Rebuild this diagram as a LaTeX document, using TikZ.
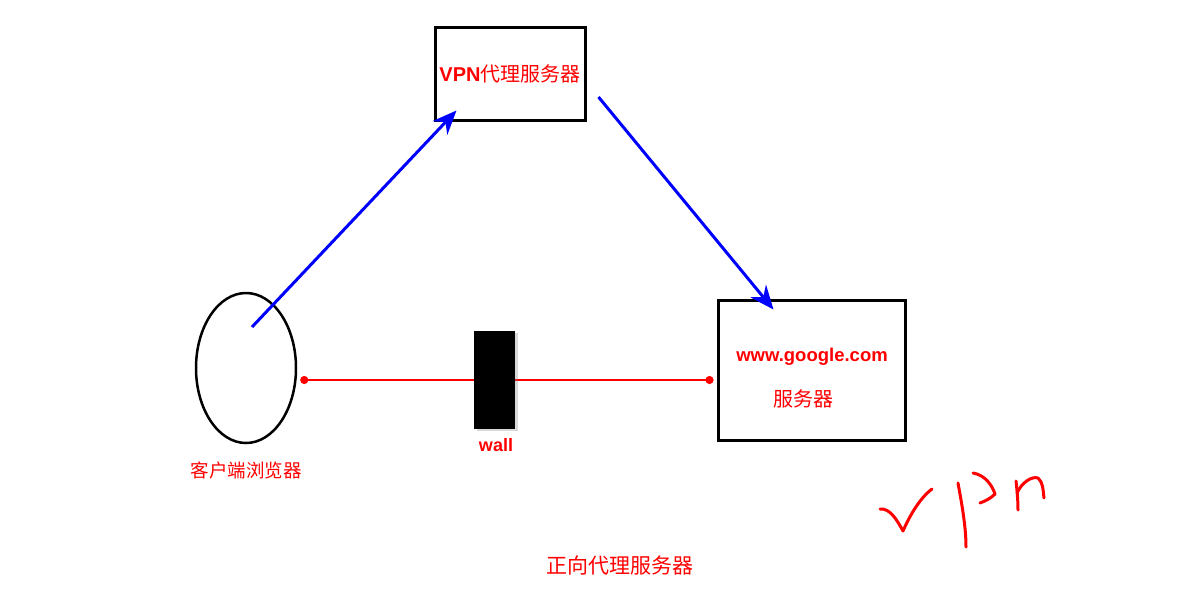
\documentclass[tikz,border=0pt]{standalone}
\usepackage{fontspec}
\setmainfont{Liberation Sans}
\newfontfamily\cjk{Noto Sans CJK SC}
\usepackage{xcolor}
\usepackage{tikz}
\usetikzlibrary{arrows.meta,shapes.geometric,shadows}
\tikzset{
  box/.style = {draw=black, line width=3pt, rectangle, inner sep=0pt,
    fill=white, drop shadow={opacity=0.15, shadow xshift=2pt, shadow yshift=-2pt}},
  browser/.style = {draw=black, line width=2.5pt, ellipse, inner sep=0pt,
    minimum width=100pt, minimum height=150pt},% navigateur
  wallbox/.style = {fill=black, rectangle, inner sep=0pt, minimum width=41pt,
    minimum height=98pt,
    drop shadow={opacity=0.3, shadow xshift=3pt, shadow yshift=-2pt}},
  lbl/.style = {red, inner sep=0pt},% texte rouge
  blue_arr/.style = {blue, line width=3pt,
    -{Stealth[length=24pt, width=20pt, inset=8pt]}},
  red_ln/.style = {red, line width=2.5pt,
    {Circle[length=8pt]}-{Circle[length=8pt]}},
  hand/.style = {red, line width=3pt, line cap=round, line join=round}
}
\begin{document}
\begin{tikzpicture}[x=1pt, y=-1pt]
\useasboundingbox (0,0) rectangle (1200,600);
% les noeuds
\node [box, minimum width=150pt, minimum height=93pt] (vpn) at (510,73.5)
  {\textcolor{red}{\fontsize{20pt}{22pt}\selectfont\bfseries VPN\cjk\mdseries 代理服务器}};
\node [box, minimum width=187pt, minimum height=140pt] (server) at (811.5,370) {};
\node [lbl, font=\fontsize{18.5pt}{20pt}\selectfont\bfseries] (google) at (812,357)
  {www.google.com};
\node [lbl, font=\fontsize{20pt}{22pt}\selectfont\cjk] (serverlbl) at (803,399) {服务器};
\node [browser] (client) at (246,368) {};
\node [lbl, font=\fontsize{18.5pt}{20pt}\selectfont\cjk] (clientlbl) at (246,470)
  {客户端浏览器};
% ligne directe, coupee par le mur
\draw [red_ln] ([shift={(3,12)}]client.east) -- ([shift={(-3,10)}]server.west);
\node [wallbox] (wall) at (494.5,380) {};
\node [lbl, font=\fontsize{18pt}{20pt}\selectfont\bfseries] (walllbl) at (496,445) {wall};
% passage par le vpn
\coordinate (start) at (252,327);
\draw [blue_arr] (start) -- ([shift={(23,-11)}]vpn.south west);
\draw [blue_arr] ([shift={(12,23.5)}]vpn.east) -- ([shift={(57,11)}]server.north west);
\node [lbl, font=\fontsize{21pt}{23pt}\selectfont\cjk] (title) at (620,566)
  {正向代理服务器};
% ecrit a la main
\draw [hand] (880,509) .. controls (890,508) and (897,520) .. (903,531)
  .. controls (910,515) and (920,498) .. (932,489);
\draw [hand] (958,483) .. controls (961,500) and (966,525) .. (966,547);
\draw [hand] (973,473) .. controls (985,475) and (992,485) .. (995,494)
  .. controls (990,499) and (985,501) .. (980,503);
\draw [hand] (1016,481) .. controls (1017,490) and (1018,500) .. (1018,510);
\draw [hand] (1017,493) .. controls (1022,482) and (1032,476) .. (1038,478)
  .. controls (1043,482) and (1043,490) .. (1044,498);
\end{tikzpicture}
\end{document}
